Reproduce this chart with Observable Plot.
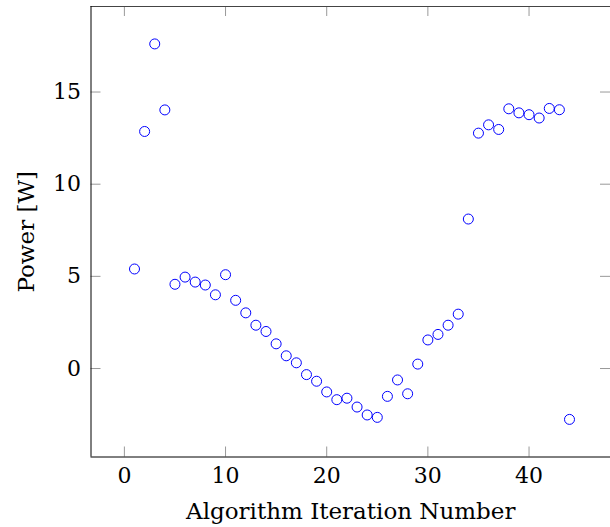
<!DOCTYPE html>
<html>
<head>
<meta charset="utf-8">
<script src="https://cdn.jsdelivr.net/npm/d3@7"></script>
<script src="https://cdn.jsdelivr.net/npm/@observablehq/plot@0.6"></script>
<style>
  body { margin: 0; background: #fff; }
</style>
</head>
<body>
<div id="chart"></div>
<script>
const iterations = [1,2,3,4,5,6,7,8,9,10,11,12,13,14,15,16,17,18,19,20,21,22,23,24,25,26,27,28,29,30,31,32,33,34,35,36,37,38,39,40,41,42,43,44];
const power = [5.40,12.86,17.61,14.03,4.57,4.96,4.69,4.53,4.00,5.09,
               3.70,3.02,2.35,2.01,1.34,0.69,0.31,-0.33,-0.69,-1.27,
               -1.69,-1.61,-2.09,-2.52,-2.65,-1.51,-0.62,-1.37,0.24,1.55,
               1.85,2.35,2.95,8.11,12.77,13.22,12.97,14.09,13.87,13.77,
               13.59,14.11,14.04,-2.76];
const xTicks = [0,10,20,30,40];
const yTicks = [0,5,10,15];
const xLabel = "Algorithm Iteration Number";
const yLabel = "Power [W]";

const data = iterations.map((it, i) => ({iteration: it, power: power[i]}));

const xDomain = [-3.3, 48.3];
const yDomain = [-4.8, 19.64];
const serif = "DejaVu Serif";

const chart = Plot.plot({
  width: 610,
  height: 527,
  marginLeft: 90.5,
  marginRight: 0,
  marginTop: 6,
  marginBottom: 70.5,
  style: {fontFamily: serif, fontSize: "22px", color: "black", background: "white"},
  x: {domain: xDomain, range: [90.5, 612.5]},
  y: {domain: yDomain, range: [456.5, 6]},
  marks: [
    Plot.tickX(xTicks, {x: d => d, insetTop: 440.5, stroke: "#999", strokeWidth: 1}),
    Plot.tickX(xTicks, {x: d => d, insetBottom: 440.5, stroke: "#999", strokeWidth: 1}),
    Plot.tickY(yTicks, {y: d => d, insetRight: 509.5, stroke: "#999", strokeWidth: 1}),
    Plot.tickY(yTicks, {y: d => d, insetLeft: 509.5, stroke: "#999", strokeWidth: 1}),
    Plot.ruleY([yDomain[0]], {stroke: "black", strokeWidth: 1}),
    Plot.ruleY([yDomain[1]], {stroke: "#444", strokeWidth: 1}),
    Plot.ruleX([xDomain[0]], {stroke: "black", strokeWidth: 1}),
    Plot.axisX({ticks: xTicks, tickSize: 0, tickPadding: 10, fontSize: 22, label: null}),
    Plot.axisY({ticks: yTicks, tickSize: 0, tickPadding: 10, fontSize: 22, label: null}),
    Plot.text([xLabel], {text: d => d, frameAnchor: "bottom", textAnchor: "middle", lineAnchor: "bottom", dy: 61.5, fontSize: 23, fill: "black"}),
    Plot.text([yLabel], {text: d => d, frameAnchor: "left", textAnchor: "middle", lineAnchor: "bottom", rotate: -90, dx: -57, fontSize: 23, fill: "black"}),
    Plot.dot(data, {x: "iteration", y: "power", r: 5, stroke: "blue", fill: "none", strokeWidth: 1})
  ]
});

d3.select(chart).attr("font-family", serif);

document.getElementById("chart").appendChild(chart);
</script>
</body>
</html>
